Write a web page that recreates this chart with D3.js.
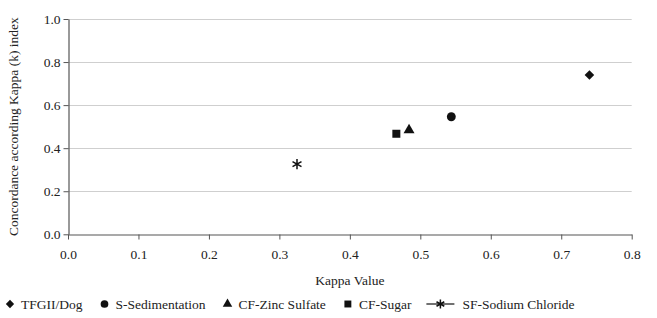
<!DOCTYPE html>
<html>
<head>
<meta charset="utf-8">
<script src="https://cdn.jsdelivr.net/npm/d3@7"></script>
<style>
  body { margin: 0; background: #fff; }
  svg { display: block; font-family: 'Liberation Serif', 'DejaVu Serif', serif; }
</style>
</head>
<body>
<div id="chart"></div>
<script>
const width = 657;
const height = 318;

const seriesNames = ['TFGII/Dog', 'S-Sedimentation', 'CF-Zinc Sulfate', 'CF-Sugar', 'SF-Sodium Chloride'];
const kappaValues = [0.74, 0.544, 0.484, 0.466, 0.325];
const concordance = [0.74, 0.546, 0.484, 0.467, 0.326];
const xTicks = [0, 0.1, 0.2, 0.3, 0.4, 0.5, 0.6, 0.7, 0.8];
const yTicks = [0, 0.2, 0.4, 0.6, 0.8, 1.0];

const margin = { top: 19, right: 25, bottom: 84, left: 68 };

const svg = d3
  .select('#chart')
  .append('svg')
  .attr('width', width)
  .attr('height', height);

const x = d3.scaleLinear().domain([0, 0.8]).range([margin.left, width - margin.right - 0.3]);
const y = d3.scaleLinear().domain([0, 1]).range([height - margin.bottom + 0.3, margin.top]);

// gridlines
svg.append('g')
  .selectAll('line')
  .data(yTicks.slice(1))
  .enter()
  .append('line')
  .attr('x1', x(0))
  .attr('x2', x(0.8))
  .attr('y1', (d) => Math.round(y(d)) + 0.5)
  .attr('y2', (d) => Math.round(y(d)) + 0.5)
  .attr('stroke', '#cfcfcf')
  .attr('stroke-width', 1);

const xAxis = svg.append('g')
  .attr('transform', 'translate(0,' + (Math.round(y(0)) + 0.5) + ')')
  .call(d3.axisBottom(x).tickValues(xTicks).tickFormat(d3.format('.1f')).tickSize(5).tickSizeOuter(0));

const yAxis = svg.append('g')
  .attr('transform', 'translate(' + (Math.round(x(0)) + 0.5) + ',0)')
  .call(d3.axisLeft(y).tickValues(yTicks).tickFormat(d3.format('.1f')).tickSize(5).tickSizeOuter(0));

[xAxis, yAxis].forEach((a) => {
  a.select('.domain').attr('stroke', '#555').attr('stroke-width', 1.2);
  a.selectAll('.tick line').attr('stroke', '#555');
  a.selectAll('.tick text')
    .attr('fill', '#222')
    .style('font-size', '13.5px')
    .style('font-family', "'Liberation Serif', 'DejaVu Serif', serif");
});
xAxis.selectAll('.tick text').attr('dy', '1.25em');
yAxis.selectAll('.tick text').attr('x', -8);

// axis titles
svg.append('text')
  .attr('x', (x(0) + x(0.8)) / 2)
  .attr('y', 285)
  .attr('text-anchor', 'middle')
  .attr('fill', '#222')
  .style('font-size', '13.5px')
  .text('Kappa Value');

svg.append('text')
  .attr('transform', 'translate(18,' + (y(0.5)) + ') rotate(-90)')
  .attr('text-anchor', 'middle')
  .attr('fill', '#222')
  .style('font-size', '13.5px')
  .text('Concordance according Kappa (k) index');

// symbols
const symbolTypes = [d3.symbolDiamond2, d3.symbolCircle, d3.symbolTriangle, d3.symbolSquare, d3.symbolAsterisk];
const symbolSizes = [58, 62, 52, 64, 75];

function drawMarker(sel, i, k) {
  const s = symbolSizes[i] * k;
  if (i === 4) {
    sel.append('path')
      .attr('d', d3.symbol().type(d3.symbolAsterisk).size(s))
      .attr('fill', 'none')
      .attr('stroke', '#111')
      .attr('stroke-width', 1.5);
  } else {
    sel.append('path')
      .attr('d', d3.symbol().type(symbolTypes[i]).size(s))
      .attr('fill', '#111');
  }
}

const points = svg.append('g')
  .selectAll('g')
  .data(seriesNames)
  .enter()
  .append('g')
  .attr('transform', (d, i) => 'translate(' + x(kappaValues[i]) + ',' + y(concordance[i]) + ')');
points.each(function (d, i) { drawMarker(d3.select(this), i, 1); });

// legend
const legend = svg.append('g').attr('transform', 'translate(0,304)');
let cursor = 10;
seriesNames.forEach((name, i) => {
  const item = legend.append('g');
  if (i === 4) {
    item.append('line')
      .attr('x1', cursor - 7)
      .attr('x2', cursor + 21)
      .attr('y1', 0)
      .attr('y2', 0)
      .attr('stroke', '#111')
      .attr('stroke-width', 1.2);
    const m = item.append('g').attr('transform', 'translate(' + (cursor + 7) + ',0)');
    drawMarker(m, i, 0.75);
    cursor += 29;
  } else {
    const m = item.append('g').attr('transform', 'translate(' + cursor + ',0)');
    drawMarker(m, i, 0.75);
    cursor += 11;
  }
  const t = item.append('text')
    .attr('x', cursor)
    .attr('y', 0)
    .attr('dy', '0.35em')
    .attr('fill', '#222')
    .style('font-size', '13.5px')
    .text(name);
  cursor += t.node().getComputedTextLength() + 22;
});
</script>
</body>
</html>
